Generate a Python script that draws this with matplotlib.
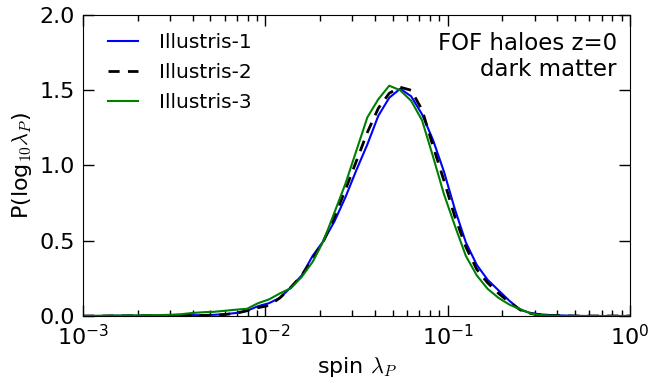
import numpy as np
import matplotlib
matplotlib.use("Agg")
import matplotlib.pyplot as plt
from matplotlib.ticker import FixedLocator, FuncFormatter, LogLocator, NullFormatter

plt.rcParams['mathtext.fontset'] = 'cm'
plt.rcParams['font.family'] = ['DejaVu Sans']

# log10 spin grid (bin centres)
log_spin = np.round(np.arange(-3.0, 0.0001, 0.06), 2)

illustris1 = [0, 0, 0, 0.002, 0.001, 0.002, 0.003, 0.003, 0.004, 0.005, 0.005, 0.006,
              0.008, 0.012, 0.02, 0.035, 0.065, 0.085, 0.12, 0.19, 0.27, 0.40, 0.50, 0.63,
              0.79, 0.97, 1.14, 1.33, 1.45, 1.51, 1.46, 1.34, 1.17, 0.96, 0.71, 0.49,
              0.34, 0.24, 0.17, 0.10, 0.04, 0.018, 0.01, 0.005, 0.003, 0.001, 0, 0, 0, 0, 0]
illustris2 = [0, 0, 0, 0.001, 0.001, 0.002, 0.002, 0.003, 0.003, 0.004, 0.004, 0.004,
              0.005, 0.01, 0.018, 0.035, 0.055, 0.07, 0.12, 0.19, 0.27, 0.38, 0.50, 0.66,
              0.84, 1.03, 1.22, 1.38, 1.48, 1.52, 1.50, 1.37, 1.13, 0.90, 0.66, 0.46,
              0.31, 0.22, 0.15, 0.09, 0.04, 0.015, 0.006, 0.003, 0.001, 0, 0, 0, 0, 0, 0]
illustris3 = [0, 0.001, 0.002, 0.003, 0.003, 0.004, 0.005, 0.006, 0.008, 0.012, 0.02, 0.025,
              0.028, 0.035, 0.042, 0.048, 0.085, 0.11, 0.15, 0.185, 0.26, 0.36, 0.50, 0.69,
              0.88, 1.10, 1.32, 1.44, 1.53, 1.50, 1.43, 1.30, 1.06, 0.81, 0.60, 0.40,
              0.27, 0.18, 0.12, 0.075, 0.045, 0.015, 0.005, 0.002, 0.001, 0, 0, 0, 0, 0, 0]

spin = 10.0 ** log_spin

fig = plt.figure(figsize=(6.5, 3.82), dpi=100)
ax = fig.add_axes([0.1277, 0.1728, 0.8413, 0.788])

ax.plot(spin, illustris1, color='blue', lw=1.5, label='Illustris-1')
ax.plot(spin, illustris2, color='black', lw=2, ls=(0, (4, 3)), label='Illustris-2')
ax.plot(spin, illustris3, color='green', lw=1.5, label='Illustris-3')

ax.set_xscale('log')
ax.set_xlim(1e-3, 1.0)
ax.set_ylim(0.0, 2.0)

ax.xaxis.set_major_locator(FixedLocator([1e-3, 1e-2, 1e-1, 1e0]))
ax.xaxis.set_major_formatter(FuncFormatter(lambda v, p: r'$\mathregular{10^{%d}}$' % int(round(np.log10(v)))))
ax.xaxis.set_minor_locator(LogLocator(base=10, subs=np.arange(2, 10)))
ax.xaxis.set_minor_formatter(NullFormatter())
ax.set_yticks([0.0, 0.5, 1.0, 1.5, 2.0])
ax.yaxis.set_major_formatter(FuncFormatter(lambda v, p: '%.1f' % v))

ax.tick_params(which='both', direction='in', top=True, right=True, labelsize=16, width=1)
ax.tick_params(which='major', length=8, pad=6)
ax.tick_params(which='minor', length=4)

ax.set_xlabel(r'spin $\lambda_P$', fontsize=16)
ax.set_ylabel(r'P(log$_{10}\lambda_P$)', fontsize=16)

ax.text(0.976, 0.944, 'FOF haloes z=0\ndark matter', transform=ax.transAxes,
        ha='right', va='top', fontsize=16.5, linespacing=1.15)

leg = ax.legend(loc='upper left', bbox_to_anchor=(0.013, 1.0), frameon=False,
                fontsize=14.5, handlelength=1.5, borderaxespad=0.5,
                labelspacing=0.55, handletextpad=1.0)

fig.savefig('out.png', dpi=100, facecolor='white')
